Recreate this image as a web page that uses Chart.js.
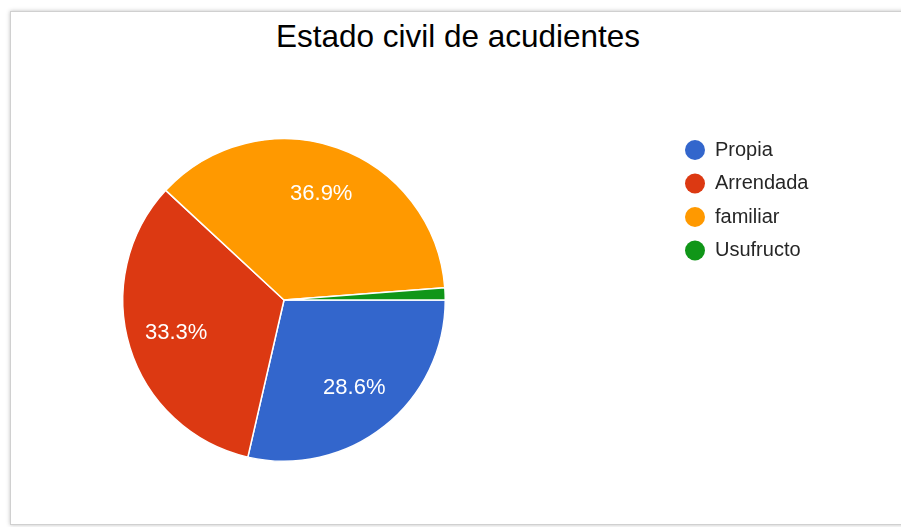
<!DOCTYPE html>
<html>
<head>
<meta charset="utf-8">
<script src="https://cdn.jsdelivr.net/npm/chart.js@4"></script>
<style>
  html, body { margin: 0; padding: 0; background: #fff; width: 901px; height: 527px; overflow: hidden; }
  #frame { position: absolute; left: 10px; top: 11px; width: 900px; height: 512px;
           border: 1px solid #d0d0d0; box-shadow: 0 0 4px rgba(0,0,0,0.25); background: #fff; }
  #title { position: absolute; left: 6px; width: 904px; top: 17px; text-align: center;
           font-family: "Liberation Sans", Arial, sans-serif; font-size: 31.5px; color: #000; line-height: 38px; }
  #wrap { position: absolute; left: 0; top: 0; width: 901px; height: 527px; }
</style>
</head>
<body>
<div id="frame"></div>
<div id="title">Estado civil de acudientes</div>
<div id="wrap"><canvas id="c"></canvas></div>
<script>
const categories = ["Propia", "Arrendada", "familiar", "Usufructo"];
const values = [28.6, 33.3, 36.9, 1.2];
const colors = ["#3366cc", "#dc3912", "#ff9900", "#109618"];

const sliceLabels = {
  id: 'sliceLabels',
  afterDatasetsDraw(chart) {
    const ctx = chart.ctx;
    const meta = chart.getDatasetMeta(0);
    ctx.save();
    ctx.font = '22px "Liberation Sans", Arial, sans-serif';
    ctx.fillStyle = '#ffffff';
    ctx.textAlign = 'center';
    ctx.textBaseline = 'middle';
    meta.data.forEach((arc, i) => {
      if (values[i] < 5) return;
      const p = arc.getProps(['x', 'y', 'startAngle', 'endAngle', 'outerRadius'], true);
      const mid = (p.startAngle + p.endAngle) / 2;
      const r = p.outerRadius * 0.7;
      ctx.fillText(values[i].toFixed(1) + '%', p.x + Math.cos(mid) * r, p.y + Math.sin(mid) * r);
    });
    ctx.restore();
  }
};

const sideLegend = {
  id: 'sideLegend',
  afterDraw(chart) {
    const ctx = chart.ctx;
    ctx.save();
    ctx.font = '20px "Liberation Sans", Arial, sans-serif';
    ctx.textBaseline = 'middle';
    ctx.textAlign = 'left';
    categories.forEach((lab, i) => {
      const cy = 150 + i * 33.5;
      ctx.beginPath();
      ctx.arc(695, cy, 10, 0, Math.PI * 2);
      ctx.fillStyle = colors[i];
      ctx.fill();
      ctx.fillStyle = '#262626';
      ctx.fillText(lab, 715, cy);
    });
    ctx.restore();
  }
};

new Chart(document.getElementById('c'), {
  type: 'pie',
  data: {
    labels: categories,
    datasets: [{
      data: values,
      backgroundColor: colors,
      borderColor: '#ffffff',
      borderWidth: 1.5
    }]
  },
  options: {
    responsive: true,
    maintainAspectRatio: false,
    animation: false,
    rotation: 90,
    layout: { padding: { left: 0, right: 333, top: 138, bottom: 65 } },
    plugins: {
      legend: { display: false },
      title: { display: false },
      tooltip: { enabled: false }
    }
  },
  plugins: [sliceLabels, sideLegend]
});
</script>
</body>
</html>
